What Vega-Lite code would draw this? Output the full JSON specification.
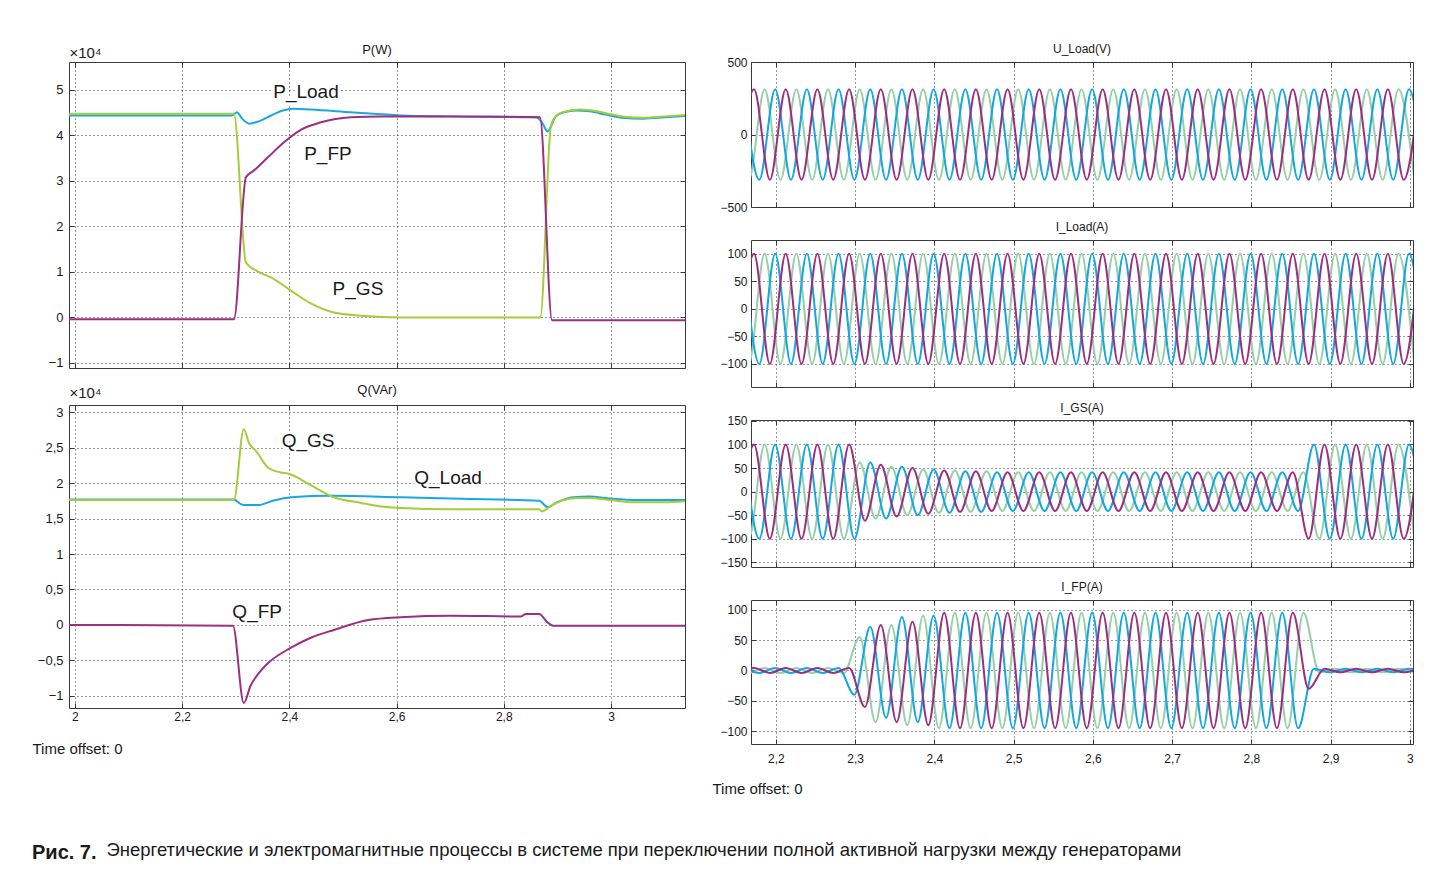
{
"$schema": "https://vega.github.io/schema/vega-lite/v6.json",
"background": "white",
"padding": {"left": 31, "top": 42, "right": 5, "bottom": 5},
"config": {
  "font": "Liberation Sans",
  "view": {"stroke": "#3a3a3a", "strokeWidth": 1},
  "axis": {"domain": false, "grid": true, "gridColor": "#222222", "gridDash": [1, 3], "gridWidth": 1, "gridOpacity": 0.9, "tickColor": "#3a3a3a", "tickSize": -5, "labelColor": "#1a1a1a", "labelFont": "Liberation Sans", "titleFont": "Liberation Sans", "titleColor": "#1a1a1a", "titleFontWeight": "normal"},
  "title": {"font": "Liberation Sans", "fontWeight": "normal", "color": "#1a1a1a"}
},
"datasets": {
  "pl": [
    {"s":"Load","t":1.98,"v":4.44},{"s":"Load","t":2.293,"v":4.44},{"s":"Load","t":2.302,"v":4.51},{"s":"Load","t":2.312,"v":4.37},{"s":"Load","t":2.325,"v":4.26},{"s":"Load","t":2.343,"v":4.31},{"s":"Load","t":2.366,"v":4.44},{"s":"Load","t":2.388,"v":4.55},{"s":"Load","t":2.407,"v":4.59},{"s":"Load","t":2.44,"v":4.57},{"s":"Load","t":2.515,"v":4.51},{"s":"Load","t":2.608,"v":4.44},{"s":"Load","t":2.701,"v":4.42},{"s":"Load","t":2.86,"v":4.4},{"s":"Load","t":2.871,"v":4.29},{"s":"Load","t":2.882,"v":4.09},{"s":"Load","t":2.888,"v":4.2},{"s":"Load","t":2.897,"v":4.42},{"s":"Load","t":2.912,"v":4.51},{"s":"Load","t":2.935,"v":4.55},{"s":"Load","t":2.96,"v":4.53},{"s":"Load","t":2.99,"v":4.46},{"s":"Load","t":3.02,"v":4.39},{"s":"Load","t":3.06,"v":4.37},{"s":"Load","t":3.1,"v":4.4},{"s":"Load","t":3.15,"v":4.44},
    {"s":"GS","t":1.98,"v":4.48},{"s":"GS","t":2.2966,"v":4.48},{"s":"GS","t":2.319,"v":1.21},{"s":"GS","t":2.3414,"v":1.01},{"s":"GS","t":2.3657,"v":0.88},{"s":"GS","t":2.403,"v":0.59},{"s":"GS","t":2.44,"v":0.31},{"s":"GS","t":2.483,"v":0.11},{"s":"GS","t":2.534,"v":0.04},{"s":"GS","t":2.608,"v":0.0},{"s":"GS","t":2.868,"v":0.0},{"s":"GS","t":2.888,"v":4.22},{"s":"GS","t":2.899,"v":4.45},{"s":"GS","t":2.916,"v":4.53},{"s":"GS","t":2.94,"v":4.57},{"s":"GS","t":2.965,"v":4.55},{"s":"GS","t":2.995,"v":4.48},{"s":"GS","t":3.025,"v":4.41},{"s":"GS","t":3.06,"v":4.39},{"s":"GS","t":3.1,"v":4.42},{"s":"GS","t":3.15,"v":4.46},
    {"s":"FP","t":1.98,"v":-0.04},{"s":"FP","t":2.2966,"v":-0.04},{"s":"FP","t":2.319,"v":3.08},{"s":"FP","t":2.334,"v":3.23},{"s":"FP","t":2.36,"v":3.52},{"s":"FP","t":2.39,"v":3.85},{"s":"FP","t":2.422,"v":4.13},{"s":"FP","t":2.459,"v":4.29},{"s":"FP","t":2.515,"v":4.4},{"s":"FP","t":2.571,"v":4.42},{"s":"FP","t":2.701,"v":4.42},{"s":"FP","t":2.8675,"v":4.4},{"s":"FP","t":2.89,"v":-0.06},{"s":"FP","t":3.15,"v":-0.06}
  ],
  "ql": [
    {"s":"Load","t":1.98,"v":1.77},{"s":"Load","t":2.2966,"v":1.77},{"s":"Load","t":2.306,"v":1.72},{"s":"Load","t":2.315,"v":1.69},{"s":"Load","t":2.343,"v":1.69},{"s":"Load","t":2.369,"v":1.75},{"s":"Load","t":2.403,"v":1.8},{"s":"Load","t":2.478,"v":1.82},{"s":"Load","t":2.608,"v":1.8},{"s":"Load","t":2.72,"v":1.78},{"s":"Load","t":2.866,"v":1.75},{"s":"Load","t":2.882,"v":1.66},{"s":"Load","t":2.897,"v":1.72},{"s":"Load","t":2.93,"v":1.8},{"s":"Load","t":2.96,"v":1.81},{"s":"Load","t":3.0,"v":1.78},{"s":"Load","t":3.05,"v":1.76},{"s":"Load","t":3.15,"v":1.76},
    {"s":"GS","t":1.98,"v":1.76},{"s":"GS","t":2.2966,"v":1.76},{"s":"GS","t":2.315,"v":2.76},{"s":"GS","t":2.325,"v":2.56},{"s":"GS","t":2.338,"v":2.45},{"s":"GS","t":2.36,"v":2.22},{"s":"GS","t":2.384,"v":2.15},{"s":"GS","t":2.399,"v":2.13},{"s":"GS","t":2.44,"v":1.97},{"s":"GS","t":2.483,"v":1.8},{"s":"GS","t":2.534,"v":1.72},{"s":"GS","t":2.571,"v":1.67},{"s":"GS","t":2.608,"v":1.65},{"s":"GS","t":2.701,"v":1.63},{"s":"GS","t":2.866,"v":1.63},{"s":"GS","t":2.871,"v":1.6},{"s":"GS","t":2.888,"v":1.68},{"s":"GS","t":2.907,"v":1.75},{"s":"GS","t":2.935,"v":1.79},{"s":"GS","t":2.96,"v":1.79},{"s":"GS","t":3.0,"v":1.76},{"s":"GS","t":3.04,"v":1.73},{"s":"GS","t":3.1,"v":1.73},{"s":"GS","t":3.15,"v":1.75},
    {"s":"FP","t":1.98,"v":0.0},{"s":"FP","t":2.2948,"v":-0.01},{"s":"FP","t":2.315,"v":-1.1},{"s":"FP","t":2.328,"v":-0.85},{"s":"FP","t":2.343,"v":-0.68},{"s":"FP","t":2.36,"v":-0.54},{"s":"FP","t":2.403,"v":-0.32},{"s":"FP","t":2.44,"v":-0.18},{"s":"FP","t":2.483,"v":-0.07},{"s":"FP","t":2.547,"v":0.07},{"s":"FP","t":2.608,"v":0.11},{"s":"FP","t":2.701,"v":0.13},{"s":"FP","t":2.832,"v":0.12},{"s":"FP","t":2.841,"v":0.155},{"s":"FP","t":2.866,"v":0.155},{"s":"FP","t":2.881,"v":0.04},{"s":"FP","t":2.892,"v":-0.01},{"s":"FP","t":3.15,"v":-0.01}
  ],
  "lp": [
    {"t":2.431,"v":4.95,"txt":"P_Load"},{"t":2.472,"v":3.6,"txt":"P_FP"},{"t":2.528,"v":0.62,"txt":"P_GS"}
  ],
  "lq": [
    {"t":2.435,"v":2.59,"txt":"Q_GS"},{"t":2.696,"v":2.07,"txt":"Q_Load"},{"t":2.34,"v":0.18,"txt":"Q_FP"}
  ],
  "w": [
    {"t":2.1457,"c":"c","u":312,"l":100,"g":100,"f":4},
    {"t":2.1657,"c":"c","u":-312,"l":-100,"g":-100,"f":-4},
    {"t":2.1857,"c":"c","u":312,"l":100,"g":100,"f":4},
    {"t":2.2057,"c":"c","u":-312,"l":-100,"g":-100,"f":-4},
    {"t":2.2257,"c":"c","u":312,"l":100,"g":100,"f":4},
    {"t":2.2457,"c":"c","u":-312,"l":-100,"g":-100,"f":-4},
    {"t":2.2657,"c":"c","u":312,"l":100,"g":100,"f":4},
    {"t":2.2857,"c":"c","u":-312,"l":-100,"g":-100,"f":-4},
    {"t":2.3057,"c":"c","u":312,"l":100,"g":62,"f":55},
    {"t":2.3257,"c":"c","u":-312,"l":-100,"g":-57,"f":-85},
    {"t":2.3457,"c":"c","u":312,"l":100,"g":53,"f":75},
    {"t":2.3657,"c":"c","u":-312,"l":-100,"g":-50,"f":-90},
    {"t":2.3857,"c":"c","u":312,"l":100,"g":47,"f":90},
    {"t":2.4057,"c":"c","u":-312,"l":-100,"g":-45,"f":-95},
    {"t":2.4257,"c":"c","u":312,"l":100,"g":45,"f":95},
    {"t":2.4457,"c":"c","u":-312,"l":-100,"g":-43,"f":-95},
    {"t":2.4657,"c":"c","u":312,"l":100,"g":43,"f":95},
    {"t":2.4857,"c":"c","u":-312,"l":-100,"g":-41,"f":-95},
    {"t":2.5057,"c":"c","u":312,"l":100,"g":41,"f":95},
    {"t":2.5257,"c":"c","u":-312,"l":-100,"g":-41,"f":-95},
    {"t":2.5457,"c":"c","u":312,"l":100,"g":41,"f":95},
    {"t":2.5657,"c":"c","u":-312,"l":-100,"g":-41,"f":-95},
    {"t":2.5857,"c":"c","u":312,"l":100,"g":41,"f":95},
    {"t":2.6057,"c":"c","u":-312,"l":-100,"g":-41,"f":-95},
    {"t":2.6257,"c":"c","u":312,"l":100,"g":41,"f":95},
    {"t":2.6457,"c":"c","u":-312,"l":-100,"g":-41,"f":-95},
    {"t":2.6657,"c":"c","u":312,"l":100,"g":41,"f":95},
    {"t":2.6857,"c":"c","u":-312,"l":-100,"g":-41,"f":-95},
    {"t":2.7057,"c":"c","u":312,"l":100,"g":41,"f":95},
    {"t":2.7257,"c":"c","u":-312,"l":-100,"g":-41,"f":-95},
    {"t":2.7457,"c":"c","u":312,"l":100,"g":41,"f":95},
    {"t":2.7657,"c":"c","u":-312,"l":-100,"g":-41,"f":-95},
    {"t":2.7857,"c":"c","u":312,"l":100,"g":41,"f":95},
    {"t":2.8057,"c":"c","u":-312,"l":-100,"g":-41,"f":-95},
    {"t":2.8257,"c":"c","u":312,"l":100,"g":41,"f":95},
    {"t":2.8457,"c":"c","u":-312,"l":-100,"g":-41,"f":-95},
    {"t":2.8657,"c":"c","u":312,"l":100,"g":41,"f":95},
    {"t":2.8857,"c":"c","u":-312,"l":-100,"g":-100,"f":-3},
    {"t":2.9057,"c":"c","u":312,"l":100,"g":100,"f":3},
    {"t":2.9257,"c":"c","u":-312,"l":-100,"g":-100,"f":-3},
    {"t":2.9457,"c":"c","u":312,"l":100,"g":100,"f":3},
    {"t":2.9657,"c":"c","u":-312,"l":-100,"g":-100,"f":-3},
    {"t":2.9857,"c":"c","u":312,"l":100,"g":100,"f":3},
    {"t":3.0057,"c":"c","u":-312,"l":-100,"g":-100,"f":-3},
    {"t":2.159,"c":"a","u":312,"l":100,"g":100,"f":4},
    {"t":2.179,"c":"a","u":-312,"l":-100,"g":-100,"f":-4},
    {"t":2.199,"c":"a","u":312,"l":100,"g":100,"f":4},
    {"t":2.219,"c":"a","u":-312,"l":-100,"g":-100,"f":-4},
    {"t":2.239,"c":"a","u":312,"l":100,"g":100,"f":4},
    {"t":2.259,"c":"a","u":-312,"l":-100,"g":-100,"f":-4},
    {"t":2.279,"c":"a","u":312,"l":100,"g":100,"f":4},
    {"t":2.299,"c":"a","u":-312,"l":-100,"g":-100,"f":-40},
    {"t":2.319,"c":"a","u":312,"l":100,"g":62,"f":72},
    {"t":2.339,"c":"a","u":-312,"l":-100,"g":-57,"f":-78},
    {"t":2.359,"c":"a","u":312,"l":100,"g":53,"f":88},
    {"t":2.379,"c":"a","u":-312,"l":-100,"g":-50,"f":-85},
    {"t":2.399,"c":"a","u":312,"l":100,"g":47,"f":90},
    {"t":2.419,"c":"a","u":-312,"l":-100,"g":-45,"f":-95},
    {"t":2.439,"c":"a","u":312,"l":100,"g":43,"f":95},
    {"t":2.459,"c":"a","u":-312,"l":-100,"g":-43,"f":-95},
    {"t":2.479,"c":"a","u":312,"l":100,"g":41,"f":95},
    {"t":2.499,"c":"a","u":-312,"l":-100,"g":-41,"f":-95},
    {"t":2.519,"c":"a","u":312,"l":100,"g":41,"f":95},
    {"t":2.539,"c":"a","u":-312,"l":-100,"g":-41,"f":-95},
    {"t":2.559,"c":"a","u":312,"l":100,"g":41,"f":95},
    {"t":2.579,"c":"a","u":-312,"l":-100,"g":-41,"f":-95},
    {"t":2.599,"c":"a","u":312,"l":100,"g":41,"f":95},
    {"t":2.619,"c":"a","u":-312,"l":-100,"g":-41,"f":-95},
    {"t":2.639,"c":"a","u":312,"l":100,"g":41,"f":95},
    {"t":2.659,"c":"a","u":-312,"l":-100,"g":-41,"f":-95},
    {"t":2.679,"c":"a","u":312,"l":100,"g":41,"f":95},
    {"t":2.699,"c":"a","u":-312,"l":-100,"g":-41,"f":-95},
    {"t":2.719,"c":"a","u":312,"l":100,"g":41,"f":95},
    {"t":2.739,"c":"a","u":-312,"l":-100,"g":-41,"f":-95},
    {"t":2.759,"c":"a","u":312,"l":100,"g":41,"f":95},
    {"t":2.779,"c":"a","u":-312,"l":-100,"g":-41,"f":-95},
    {"t":2.799,"c":"a","u":312,"l":100,"g":41,"f":95},
    {"t":2.819,"c":"a","u":-312,"l":-100,"g":-41,"f":-95},
    {"t":2.839,"c":"a","u":312,"l":100,"g":41,"f":95},
    {"t":2.859,"c":"a","u":-312,"l":-100,"g":-41,"f":-95},
    {"t":2.879,"c":"a","u":312,"l":100,"g":100,"f":3},
    {"t":2.899,"c":"a","u":-312,"l":-100,"g":-100,"f":-3},
    {"t":2.919,"c":"a","u":312,"l":100,"g":100,"f":3},
    {"t":2.939,"c":"a","u":-312,"l":-100,"g":-100,"f":-3},
    {"t":2.959,"c":"a","u":312,"l":100,"g":100,"f":3},
    {"t":2.979,"c":"a","u":-312,"l":-100,"g":-100,"f":-3},
    {"t":2.999,"c":"a","u":312,"l":100,"g":100,"f":3},
    {"t":3.019,"c":"a","u":-312,"l":-100,"g":-100,"f":-3},
    {"t":2.1523,"c":"b","u":-312,"l":-100,"g":-100,"f":-4},
    {"t":2.1723,"c":"b","u":312,"l":100,"g":100,"f":4},
    {"t":2.1923,"c":"b","u":-312,"l":-100,"g":-100,"f":-4},
    {"t":2.2123,"c":"b","u":312,"l":100,"g":100,"f":4},
    {"t":2.2323,"c":"b","u":-312,"l":-100,"g":-100,"f":-4},
    {"t":2.2523,"c":"b","u":312,"l":100,"g":100,"f":4},
    {"t":2.2723,"c":"b","u":-312,"l":-100,"g":-100,"f":-4},
    {"t":2.2923,"c":"b","u":312,"l":100,"g":100,"f":4},
    {"t":2.3123,"c":"b","u":-312,"l":-100,"g":-62,"f":-60},
    {"t":2.3323,"c":"b","u":312,"l":100,"g":57,"f":75},
    {"t":2.3523,"c":"b","u":-312,"l":-100,"g":-53,"f":-85},
    {"t":2.3723,"c":"b","u":312,"l":100,"g":50,"f":80},
    {"t":2.3923,"c":"b","u":-312,"l":-100,"g":-47,"f":-90},
    {"t":2.4123,"c":"b","u":312,"l":100,"g":45,"f":95},
    {"t":2.4323,"c":"b","u":-312,"l":-100,"g":-43,"f":-95},
    {"t":2.4523,"c":"b","u":312,"l":100,"g":43,"f":95},
    {"t":2.4723,"c":"b","u":-312,"l":-100,"g":-41,"f":-95},
    {"t":2.4923,"c":"b","u":312,"l":100,"g":41,"f":95},
    {"t":2.5123,"c":"b","u":-312,"l":-100,"g":-41,"f":-95},
    {"t":2.5323,"c":"b","u":312,"l":100,"g":41,"f":95},
    {"t":2.5523,"c":"b","u":-312,"l":-100,"g":-41,"f":-95},
    {"t":2.5723,"c":"b","u":312,"l":100,"g":41,"f":95},
    {"t":2.5923,"c":"b","u":-312,"l":-100,"g":-41,"f":-95},
    {"t":2.6123,"c":"b","u":312,"l":100,"g":41,"f":95},
    {"t":2.6323,"c":"b","u":-312,"l":-100,"g":-41,"f":-95},
    {"t":2.6523,"c":"b","u":312,"l":100,"g":41,"f":95},
    {"t":2.6723,"c":"b","u":-312,"l":-100,"g":-41,"f":-95},
    {"t":2.6923,"c":"b","u":312,"l":100,"g":41,"f":95},
    {"t":2.7123,"c":"b","u":-312,"l":-100,"g":-41,"f":-95},
    {"t":2.7323,"c":"b","u":312,"l":100,"g":41,"f":95},
    {"t":2.7523,"c":"b","u":-312,"l":-100,"g":-41,"f":-95},
    {"t":2.7723,"c":"b","u":312,"l":100,"g":41,"f":95},
    {"t":2.7923,"c":"b","u":-312,"l":-100,"g":-41,"f":-95},
    {"t":2.8123,"c":"b","u":312,"l":100,"g":41,"f":95},
    {"t":2.8323,"c":"b","u":-312,"l":-100,"g":-41,"f":-95},
    {"t":2.8523,"c":"b","u":312,"l":100,"g":41,"f":95},
    {"t":2.8723,"c":"b","u":-312,"l":-100,"g":-100,"f":-30},
    {"t":2.8923,"c":"b","u":312,"l":100,"g":100,"f":3},
    {"t":2.9123,"c":"b","u":-312,"l":-100,"g":-100,"f":-3},
    {"t":2.9323,"c":"b","u":312,"l":100,"g":100,"f":3},
    {"t":2.9523,"c":"b","u":-312,"l":-100,"g":-100,"f":-3},
    {"t":2.9723,"c":"b","u":312,"l":100,"g":100,"f":3},
    {"t":2.9923,"c":"b","u":-312,"l":-100,"g":-100,"f":-3},
    {"t":3.0123,"c":"b","u":312,"l":100,"g":100,"f":3}
  ]
},
"columns": 1,
"align": "none",
"spacing": 43,
"concat": [
  {
    "columns": 2,
    "align": "none",
    "spacing": 24,
    "concat": [
      {
        "spacing": 37,
        "bounds": "flush",
        "vconcat": [
          {
            "width": 616, "height": 306,
            "title": {"text": "P(W)", "fontSize": 13, "offset": -12},
            "resolve": {"axis": {"x": "independent", "y": "independent"}},
            "layer": [
              {"data": {"name": "pl"}, "mark": {"type": "line", "clip": true, "interpolate": "monotone", "strokeWidth": 2},
               "encoding": {
                 "x": {"field": "t", "type": "quantitative", "scale": {"domain": [1.989, 3.138], "nice": false, "zero": false},
                       "axis": {"values": [2, 2.2, 2.4, 2.6, 2.8, 3], "labels": false, "title": null, "minExtent": 0, "maxExtent": 0}},
                 "y": {"field": "v", "type": "quantitative", "scale": {"domain": [-1.11, 5.615], "nice": false, "zero": false},
                       "axis": {"values": [-1, 0, 1, 2, 3, 4, 5], "labelFontSize": 13, "labelPadding": 11, "minExtent": 37, "maxExtent": 37,
                                "labelExpr": "replace(format(datum.value, '~g'), '.', ',')",
                                "title": "×10⁴", "titleAngle": 0, "titleAlign": "left", "titleBaseline": "bottom", "titleX": 0, "titleY": -2, "titleFontSize": 15}},
                 "color": {"field": "s", "type": "nominal", "scale": {"domain": ["Load", "GS", "FP", "c", "a", "b"], "range": ["#1aa7e0", "#a5cd39", "#9c2f80", "#94cfa7", "#14a6e2", "#9d2d7f"]}, "legend": null}}},
              {"data": {"name": "lp"}, "mark": {"type": "text", "fontSize": 19, "stroke": "white", "strokeWidth": 6, "strokeJoin": "round", "fill": "white"},
               "encoding": {
                 "x": {"field": "t", "type": "quantitative", "scale": {"domain": [1.989, 3.138], "nice": false, "zero": false}, "axis": null},
                 "y": {"field": "v", "type": "quantitative", "scale": {"domain": [-1.11, 5.615], "nice": false, "zero": false}, "axis": null},
                 "text": {"field": "txt"}}},
              {"data": {"name": "lp"}, "mark": {"type": "text", "fontSize": 19, "fill": "#1a1a1a"},
               "encoding": {
                 "x": {"field": "t", "type": "quantitative", "scale": {"domain": [1.989, 3.138], "nice": false, "zero": false}, "axis": null},
                 "y": {"field": "v", "type": "quantitative", "scale": {"domain": [-1.11, 5.615], "nice": false, "zero": false}, "axis": null},
                 "text": {"field": "txt"}}},
              {"data": {"name": "lp"}, "mark": {"type": "point", "opacity": 0},
               "encoding": {
                 "x": {"field": "t", "type": "quantitative", "scale": {"domain": [1.989, 3.138], "nice": false, "zero": false},
                       "axis": {"orient": "top", "values": [2, 2.2, 2.4, 2.6, 2.8, 3], "labels": false, "grid": false, "title": null, "minExtent": 0, "maxExtent": 0}},
                 "y": {"field": "v", "type": "quantitative", "scale": {"domain": [-1.11, 5.615], "nice": false, "zero": false},
                       "axis": {"orient": "right", "values": [-1, 0, 1, 2, 3, 4, 5], "labels": false, "grid": false, "title": null, "minExtent": 0, "maxExtent": 0}}}}
            ]
          },
          {
            "width": 616, "height": 303,
            "title": {"text": "Q(VAr)", "fontSize": 13, "offset": -12},
            "resolve": {"axis": {"x": "independent", "y": "independent"}},
            "layer": [
              {"data": {"name": "ql"}, "mark": {"type": "line", "clip": true, "interpolate": "monotone", "strokeWidth": 2},
               "encoding": {
                 "x": {"field": "t", "type": "quantitative", "scale": {"domain": [1.989, 3.138], "nice": false, "zero": false},
                       "axis": {"values": [2, 2.2, 2.4, 2.6, 2.8, 3], "labelFontSize": 12, "labelPadding": 8,
                                "labelExpr": "replace(format(datum.value, '~g'), '.', ',')",
                                "title": "Time offset: 0", "titleX": -37, "titleY": 40, "titleAlign": "left", "titleBaseline": "middle", "titleFontSize": 15}},
                 "y": {"field": "v", "type": "quantitative", "scale": {"domain": [-1.17, 3.1], "nice": false, "zero": false},
                       "axis": {"values": [-1, -0.5, 0, 0.5, 1, 1.5, 2, 2.5, 3], "labelFontSize": 13, "labelPadding": 11, "minExtent": 37, "maxExtent": 37,
                                "labelExpr": "replace(format(datum.value, '~g'), '.', ',')",
                                "title": "×10⁴", "titleAngle": 0, "titleAlign": "left", "titleBaseline": "bottom", "titleX": 0, "titleY": -5, "titleFontSize": 15}},
                 "color": {"field": "s", "type": "nominal", "scale": {"domain": ["Load", "GS", "FP", "c", "a", "b"], "range": ["#1aa7e0", "#a5cd39", "#9c2f80", "#94cfa7", "#14a6e2", "#9d2d7f"]}, "legend": null}}},
              {"data": {"name": "lq"}, "mark": {"type": "text", "fontSize": 19, "stroke": "white", "strokeWidth": 6, "strokeJoin": "round", "fill": "white"},
               "encoding": {
                 "x": {"field": "t", "type": "quantitative", "scale": {"domain": [1.989, 3.138], "nice": false, "zero": false}, "axis": null},
                 "y": {"field": "v", "type": "quantitative", "scale": {"domain": [-1.17, 3.1], "nice": false, "zero": false}, "axis": null},
                 "text": {"field": "txt"}}},
              {"data": {"name": "lq"}, "mark": {"type": "text", "fontSize": 19, "fill": "#1a1a1a"},
               "encoding": {
                 "x": {"field": "t", "type": "quantitative", "scale": {"domain": [1.989, 3.138], "nice": false, "zero": false}, "axis": null},
                 "y": {"field": "v", "type": "quantitative", "scale": {"domain": [-1.17, 3.1], "nice": false, "zero": false}, "axis": null},
                 "text": {"field": "txt"}}},
              {"data": {"name": "lq"}, "mark": {"type": "point", "opacity": 0},
               "encoding": {
                 "x": {"field": "t", "type": "quantitative", "scale": {"domain": [1.989, 3.138], "nice": false, "zero": false},
                       "axis": {"orient": "top", "values": [2, 2.2, 2.4, 2.6, 2.8, 3], "labels": false, "grid": false, "title": null, "minExtent": 0, "maxExtent": 0}},
                 "y": {"field": "v", "type": "quantitative", "scale": {"domain": [-1.17, 3.1], "nice": false, "zero": false},
                       "axis": {"orient": "right", "values": [-1, -0.5, 0, 0.5, 1, 1.5, 2, 2.5, 3], "labels": false, "grid": false, "title": null, "minExtent": 0, "maxExtent": 0}}}}
            ]
          }
        ]
      },
      {
        "spacing": 33,
        "bounds": "flush",
        "vconcat": [
          {
            "width": 662, "height": 145,
            "title": {"text": "U_Load(V)", "fontSize": 12, "offset": 0},
            "data": {"name": "w"},
            "resolve": {"axis": {"x": "independent", "y": "independent"}},
            "layer": [
              {"mark": {"type": "line", "clip": true, "interpolate": "monotone", "strokeWidth": 2},
               "encoding": {
                 "x": {"field": "t", "type": "quantitative", "scale": {"domain": [2.1685, 3.004], "nice": false, "zero": false},
                       "axis": {"values": [2.2, 2.3, 2.4, 2.5, 2.6, 2.7, 2.8, 2.9, 3], "labels": false, "title": null, "minExtent": 0, "maxExtent": 0}},
                 "y": {"field": "u", "type": "quantitative", "scale": {"domain": [-500, 500], "nice": false, "zero": false},
                       "axis": {"values": [-500, 0, 500], "labelFontSize": 12, "labelPadding": 9, "minExtent": 40, "maxExtent": 40, "title": null}},
                 "color": {"field": "c", "type": "nominal", "scale": {"domain": ["Load", "GS", "FP", "c", "a", "b"], "range": ["#1aa7e0", "#a5cd39", "#9c2f80", "#94cfa7", "#14a6e2", "#9d2d7f"]}, "legend": null}}},
              {"mark": {"type": "point", "opacity": 0},
               "encoding": {
                 "x": {"field": "t", "type": "quantitative", "scale": {"domain": [2.1685, 3.004], "nice": false, "zero": false},
                       "axis": {"orient": "top", "values": [2.2, 2.3, 2.4, 2.5, 2.6, 2.7, 2.8, 2.9, 3], "labels": false, "grid": false, "title": null, "minExtent": 0, "maxExtent": 0}},
                 "y": {"field": "u", "type": "quantitative", "scale": {"domain": [-500, 500], "nice": false, "zero": false},
                       "axis": {"orient": "right", "values": [-500, 0, 500], "labels": false, "grid": false, "title": null, "minExtent": 0, "maxExtent": 0}}}}
            ]
          },
          {
            "width": 662, "height": 147,
            "title": {"text": "I_Load(A)", "fontSize": 12, "offset": 6},
            "data": {"name": "w"},
            "resolve": {"axis": {"x": "independent", "y": "independent"}},
            "layer": [
              {"mark": {"type": "line", "clip": true, "interpolate": "monotone", "strokeWidth": 2},
               "encoding": {
                 "x": {"field": "t", "type": "quantitative", "scale": {"domain": [2.1685, 3.004], "nice": false, "zero": false},
                       "axis": {"values": [2.2, 2.3, 2.4, 2.5, 2.6, 2.7, 2.8, 2.9, 3], "labels": false, "title": null, "minExtent": 0, "maxExtent": 0}},
                 "y": {"field": "l", "type": "quantitative", "scale": {"domain": [-142, 125], "nice": false, "zero": false},
                       "axis": {"values": [-100, -50, 0, 50, 100], "labelFontSize": 12, "labelPadding": 9, "minExtent": 40, "maxExtent": 40, "title": null}},
                 "color": {"field": "c", "type": "nominal", "scale": {"domain": ["Load", "GS", "FP", "c", "a", "b"], "range": ["#1aa7e0", "#a5cd39", "#9c2f80", "#94cfa7", "#14a6e2", "#9d2d7f"]}, "legend": null}}},
              {"mark": {"type": "point", "opacity": 0},
               "encoding": {
                 "x": {"field": "t", "type": "quantitative", "scale": {"domain": [2.1685, 3.004], "nice": false, "zero": false},
                       "axis": {"orient": "top", "values": [2.2, 2.3, 2.4, 2.5, 2.6, 2.7, 2.8, 2.9, 3], "labels": false, "grid": false, "title": null, "minExtent": 0, "maxExtent": 0}},
                 "y": {"field": "l", "type": "quantitative", "scale": {"domain": [-142, 125], "nice": false, "zero": false},
                       "axis": {"orient": "right", "values": [-100, -50, 0, 50, 100], "labels": false, "grid": false, "title": null, "minExtent": 0, "maxExtent": 0}}}}
            ]
          },
          {
            "width": 662, "height": 147,
            "title": {"text": "I_GS(A)", "fontSize": 12, "offset": 0},
            "data": {"name": "w"},
            "resolve": {"axis": {"x": "independent", "y": "independent"}},
            "layer": [
              {"mark": {"type": "line", "clip": true, "interpolate": "monotone", "strokeWidth": 2},
               "encoding": {
                 "x": {"field": "t", "type": "quantitative", "scale": {"domain": [2.1685, 3.004], "nice": false, "zero": false},
                       "axis": {"values": [2.2, 2.3, 2.4, 2.5, 2.6, 2.7, 2.8, 2.9, 3], "labels": false, "title": null, "minExtent": 0, "maxExtent": 0}},
                 "y": {"field": "g", "type": "quantitative", "scale": {"domain": [-160, 152], "nice": false, "zero": false},
                       "axis": {"values": [-150, -100, -50, 0, 50, 100, 150], "labelFontSize": 12, "labelPadding": 9, "minExtent": 40, "maxExtent": 40, "title": null}},
                 "color": {"field": "c", "type": "nominal", "scale": {"domain": ["Load", "GS", "FP", "c", "a", "b"], "range": ["#1aa7e0", "#a5cd39", "#9c2f80", "#94cfa7", "#14a6e2", "#9d2d7f"]}, "legend": null}}},
              {"mark": {"type": "point", "opacity": 0},
               "encoding": {
                 "x": {"field": "t", "type": "quantitative", "scale": {"domain": [2.1685, 3.004], "nice": false, "zero": false},
                       "axis": {"orient": "top", "values": [2.2, 2.3, 2.4, 2.5, 2.6, 2.7, 2.8, 2.9, 3], "labels": false, "grid": false, "title": null, "minExtent": 0, "maxExtent": 0}},
                 "y": {"field": "g", "type": "quantitative", "scale": {"domain": [-160, 152], "nice": false, "zero": false},
                       "axis": {"orient": "right", "values": [-150, -100, -50, 0, 50, 100, 150], "labels": false, "grid": false, "title": null, "minExtent": 0, "maxExtent": 0}}}}
            ]
          },
          {
            "width": 662, "height": 144,
            "title": {"text": "I_FP(A)", "fontSize": 12, "offset": 6},
            "data": {"name": "w"},
            "resolve": {"axis": {"x": "independent", "y": "independent"}},
            "layer": [
              {"mark": {"type": "line", "clip": true, "interpolate": "monotone", "strokeWidth": 2},
               "encoding": {
                 "x": {"field": "t", "type": "quantitative", "scale": {"domain": [2.1685, 3.004], "nice": false, "zero": false},
                       "axis": {"values": [2.2, 2.3, 2.4, 2.5, 2.6, 2.7, 2.8, 2.9, 3], "labelFontSize": 12, "labelPadding": 14,
                                "labelExpr": "replace(format(datum.value, '~g'), '.', ',')",
                                "title": "Time offset: 0", "titleX": -39, "titleY": 44, "titleAlign": "left", "titleBaseline": "middle", "titleFontSize": 15}},
                 "y": {"field": "f", "type": "quantitative", "scale": {"domain": [-121, 116], "nice": false, "zero": false},
                       "axis": {"values": [-100, -50, 0, 50, 100], "labelFontSize": 12, "labelPadding": 9, "minExtent": 40, "maxExtent": 40, "title": null}},
                 "color": {"field": "c", "type": "nominal", "scale": {"domain": ["Load", "GS", "FP", "c", "a", "b"], "range": ["#1aa7e0", "#a5cd39", "#9c2f80", "#94cfa7", "#14a6e2", "#9d2d7f"]}, "legend": null}}},
              {"mark": {"type": "point", "opacity": 0},
               "encoding": {
                 "x": {"field": "t", "type": "quantitative", "scale": {"domain": [2.1685, 3.004], "nice": false, "zero": false},
                       "axis": {"orient": "top", "values": [2.2, 2.3, 2.4, 2.5, 2.6, 2.7, 2.8, 2.9, 3], "labels": false, "grid": false, "title": null, "minExtent": 0, "maxExtent": 0}},
                 "y": {"field": "f", "type": "quantitative", "scale": {"domain": [-121, 116], "nice": false, "zero": false},
                       "axis": {"orient": "right", "values": [-100, -50, 0, 50, 100], "labels": false, "grid": false, "title": null, "minExtent": 0, "maxExtent": 0}}}}
            ]
          }
        ]
      }
    ]
  },
  {
    "width": 1160, "height": 1,
    "view": {"stroke": null},
    "title": {"text": "Рис. 7.", "orient": "bottom", "anchor": "start", "baseline": "middle", "offset": -6, "dx": -37, "fontSize": 20, "fontWeight": "bold", "color": "#1a1a1a"},
    "data": {"values": [{"a": 0}]},
    "mark": {"type": "rule", "opacity": 0},
    "encoding": {
      "x": {"field": "a", "type": "quantitative",
            "axis": {"orient": "top", "labels": false, "ticks": false, "domain": false, "grid": false,
                     "title": "Энергетические и электромагнитные процессы в системе при переключении полной активной нагрузки между генераторами",
                     "titleX": 37, "titleY": 0, "titleAlign": "left", "titleBaseline": "middle", "titleAngle": 0, "titleFontSize": 18.5, "titleFontWeight": "normal", "titleColor": "#1a1a1a"}}
    }
  }
]
}
